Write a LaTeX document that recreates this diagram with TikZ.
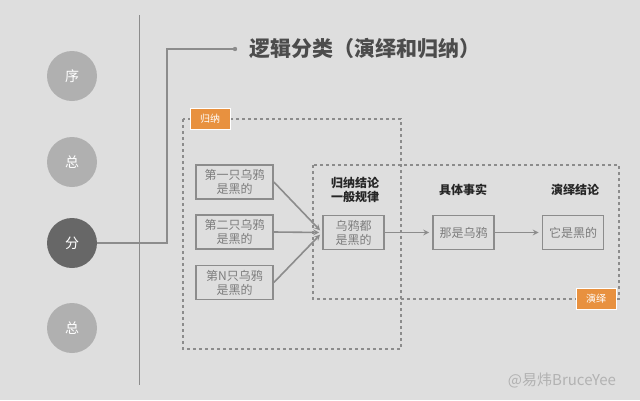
\documentclass[tikz,border=0pt]{standalone}
\usepackage{fontspec}
\usepackage{xcolor}
\usepackage{tikz}
\usetikzlibrary{arrows}
\newfontfamily\cjk{Noto Sans CJK SC}

\definecolor{bggray}{HTML}{DEDEDE}
\definecolor{circlegray}{HTML}{B0B0B0}
\definecolor{darkcircle}{HTML}{676767}
\definecolor{linegray}{HTML}{8C8C8C}
\definecolor{textgray}{HTML}{7C7C7C}
\definecolor{tagorange}{HTML}{E8913F}

\begin{document}
\begin{tikzpicture}[x=1pt, y=-1pt, every node/.style={font=\cjk}]
        % Define styles for the circles, boxes and frames
        \tikzstyle{dot} = [circle, fill=circlegray, minimum size=50pt, text=white,
                           font=\cjk\fontsize{14}{14}\selectfont]
        \tikzstyle{block} = [rectangle, draw=linegray, line width=1.7pt, text=textgray, align=center,
                             minimum width=77pt, minimum height=34pt, inner sep=1pt,
                             font=\cjk\fontsize{12}{14}\selectfont]
        \tikzstyle{small} = [block, minimum width=61pt]
        \tikzstyle{frame} = [draw=linegray, dashed, line width=1.2pt]
        \tikzstyle{tag} = [rectangle, fill=tagorange, draw=white, line width=1pt, text=white,
                           minimum width=40pt, minimum height=21pt, font=\cjk\fontsize{10}{10}\selectfont]
        \tikzstyle{head} = [align=center, text=black!85, font=\cjk\bfseries\fontsize{12}{14}\selectfont]
        \tikzstyle{arrow} = [linegray, line width=1.6pt, ->, >=stealth, shorten >=3pt]

        % Background
        \fill[bggray] (0,0) rectangle (640,400);
        \useasboundingbox (0,0) rectangle (640,400);

        % Circles on the left
        \node (xu) [dot] at (72,76) {序};
        \node (zong) [dot] at (72,162) {总};
        \node (fen) [dot, fill=darkcircle] at (72,243) {分};
        \node (zongjie) [dot] at (72,328) {总};
        \draw[linegray, line width=1pt] (139,15) -- (139,385);

        % Title
        \coordinate (titledot) at (235,49);
        \draw[linegray, line width=1.2pt] (fen.east) -| (167,49) -- (titledot);
        \fill[linegray] (titledot) circle (2.2pt);
        \node (title) [anchor=west, text=black!70, font=\cjk\bfseries\fontsize{21}{21}\selectfont]
              at (246,49) {逻辑分类（演绎和归纳）};

        % Dashed frames
        \draw[frame] (183,119) rectangle (401,349);
        \draw[frame] (313,165) rectangle (619,299);
        \node (tagin) [tag] at (210,119) {归纳};
        \node (tagout) [tag] at (596,299) {演绎};

        % Blocks
        \node (crowa) [block] at (234.5,182) {第一只乌鸦\\是黑的};
        \node (crowb) [block] at (234.5,232) {第二只乌鸦\\是黑的};
        \node (crown) [block] at (234.5,282.5) {第N只乌鸦\\是黑的};
        \node (rule) [small] at (353.5,232.5) {乌鸦都\\是黑的};
        \node (fact) [small] at (463.5,232.5) {那是乌鸦};
        \node (result) [small] at (573,232.5) {它是黑的};

        % Headings
        \node (headrule) [head] at (355,190) {归纳结论\\一般规律};
        \node (headfact) [head] at (463,190) {具体事实};
        \node (headresult) [head] at (575,190) {演绎结论};

        % Arrows
        \draw [arrow] (crowa.east) -- (rule.west);
        \draw [arrow] (crowb.east) -- (rule.west);
        \draw [arrow] (crown.east) -- (rule.west);
        \draw [arrow] (rule) -- (fact);
        \draw [arrow] (fact) -- (result);

        % Watermark
        \node (mark) [text=black!30, font=\cjk\fontsize{15}{15}\selectfont] at (562,380) {@易炜BruceYee};
    \end{tikzpicture}
\end{document}
